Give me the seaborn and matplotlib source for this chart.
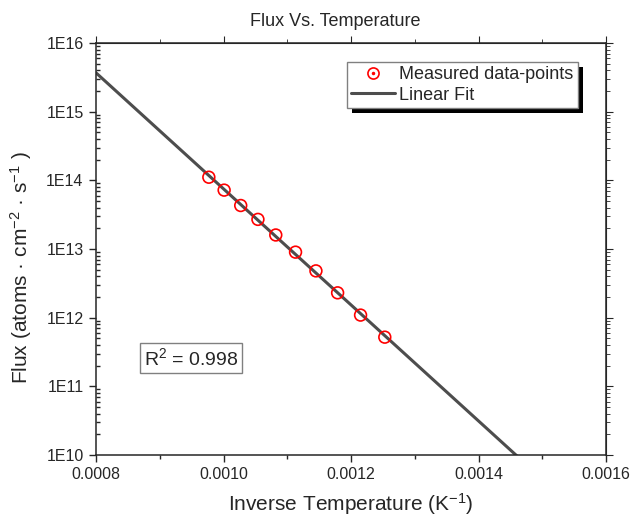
import matplotlib
matplotlib.use('Agg')
import matplotlib.pyplot as plt
import matplotlib.ticker as mticker
from matplotlib.lines import Line2D
from matplotlib.patches import Rectangle
import numpy as np
import pandas as pd
import seaborn as sns

# measured points
inv_temp = [0.000977, 0.001001, 0.001027, 0.001054, 0.001082,
            0.001113, 0.001145, 0.001179, 0.001215, 0.001253]
flux = [1.11e14, 7.2e13, 4.3e13, 2.7e13, 1.6e13,
        9.0e12, 4.8e12, 2.3e12, 1.09e12, 5.2e11]
r_squared = 0.998

x_ticks = [0.0008, 0.0010, 0.0012, 0.0014, 0.0016]
y_ticks = [1e10, 1e11, 1e12, 1e13, 1e14, 1e15, 1e16]

sns.set_style('ticks')
plt.rcParams['font.family'] = ['Liberation Sans', 'DejaVu Sans']
plt.rcParams['mathtext.default'] = 'regular'

df = pd.DataFrame({'x': inv_temp, 'flux': flux})

# linear fit in log space, drawn across the x range
slope, icpt = np.polyfit(df['x'], np.log10(df['flux']), 1)
fit_x = np.linspace(x_ticks[0], x_ticks[-1], 200)
fit = pd.DataFrame({'x': fit_x, 'flux': 10 ** (icpt + slope * fit_x)})

fig = plt.figure(figsize=(6.34, 5.27), dpi=100)
ax = fig.add_axes([96 / 634, 1 - 455 / 527, 510 / 634, 412 / 527])

sns.lineplot(data=fit, x='x', y='flux', ax=ax, color='#4d4d4d', linewidth=2.2)
sns.scatterplot(data=df, x='x', y='flux', ax=ax, marker='o', s=72,
                facecolor='none', edgecolor='red', linewidth=1.2, zorder=3)

ax.set_yscale('log')
ax.set_xlim(x_ticks[0], x_ticks[-1])
ax.set_ylim(y_ticks[0], y_ticks[-1])
ax.set_xticks(x_ticks)
ax.set_xticklabels([f'{v:.4f}' for v in x_ticks])
ax.xaxis.set_minor_locator(mticker.MultipleLocator(0.0001))
ax.set_yticks(y_ticks)
ax.yaxis.set_major_formatter(mticker.FuncFormatter(lambda v, p: f'1E{int(round(np.log10(v)))}'))
ax.yaxis.set_minor_locator(mticker.LogLocator(base=10, subs=np.arange(2, 10), numticks=20))
ax.yaxis.set_minor_formatter(mticker.NullFormatter())

ax.tick_params(which='major', direction='out', length=5, width=1, labelsize=11.5)
ax.tick_params(axis='y', which='major', pad=4)
ax.tick_params(axis='x', which='minor', direction='out', length=3, width=1)
ax.tick_params(axis='y', which='minor', direction='in', length=3, width=1)
for sp in ax.spines.values():
    sp.set_linewidth(1.1)

# top and right axes with outward ticks, no labels
top = ax.secondary_xaxis('top')
top.set_xticks(x_ticks)
top.xaxis.set_minor_locator(mticker.MultipleLocator(0.0001))
top.tick_params(which='major', direction='out', length=5, labeltop=False)
top.tick_params(which='minor', direction='out', length=3)
right = ax.secondary_yaxis('right')
right.set_yticks(y_ticks)
right.yaxis.set_minor_locator(mticker.LogLocator(base=10, subs=np.arange(2, 10), numticks=20))
right.yaxis.set_minor_formatter(mticker.NullFormatter())
right.tick_params(which='major', direction='out', length=5, labelright=False)
right.tick_params(which='minor', direction='out', length=3)

ax.set_xlabel('Inverse Temperature (K$^{-1}$)', fontsize=15, labelpad=7)
ax.set_ylabel('Flux (atoms · cm$^{-2}$ · s$^{-1}$ )', fontsize=15)
ax.yaxis.set_label_coords(-0.122, 0.455)
ax.set_title('Flux Vs. Temperature', fontsize=13, pad=12, x=0.47)

circle = Line2D([], [], marker='o', linestyle='none', markerfacecolor='none',
                markeredgecolor='red', markersize=8, markeredgewidth=1.2)
dot = Line2D([], [], marker='o', linestyle='none', color='red', markersize=1.5)
handles = [(circle, dot), Line2D([], [], color='#4d4d4d', linewidth=2.2)]
leg = ax.legend(handles, ['Measured data-points', 'Linear Fit'],
                loc='upper right', bbox_to_anchor=(0.945, 0.955),
                fontsize=13, frameon=True, fancybox=False, framealpha=1,
                borderpad=0.25, handlelength=2.4, handletextpad=0.25,
                labelspacing=0.2, borderaxespad=0)
leg.get_frame().set_edgecolor('#808080')
leg.get_frame().set_linewidth(1.0)
leg.set_zorder(10)

ax.text(0.186, 0.235, f'R$^2$ = {r_squared}', transform=ax.transAxes,
        fontsize=14, ha='center', va='center',
        bbox=dict(boxstyle='square,pad=0.2', facecolor='white',
                  edgecolor='#808080', linewidth=1.0))

# black drop shadow behind the legend, offset a few pixels
fig.canvas.draw()
bb = leg.get_window_extent()
shadow = Rectangle((bb.x0 + 5, bb.y0 - 5), bb.width, bb.height,
                   transform=None, facecolor='black', edgecolor='none', zorder=9)
ax.add_artist(shadow)

fig.savefig('out.png', dpi=100)
